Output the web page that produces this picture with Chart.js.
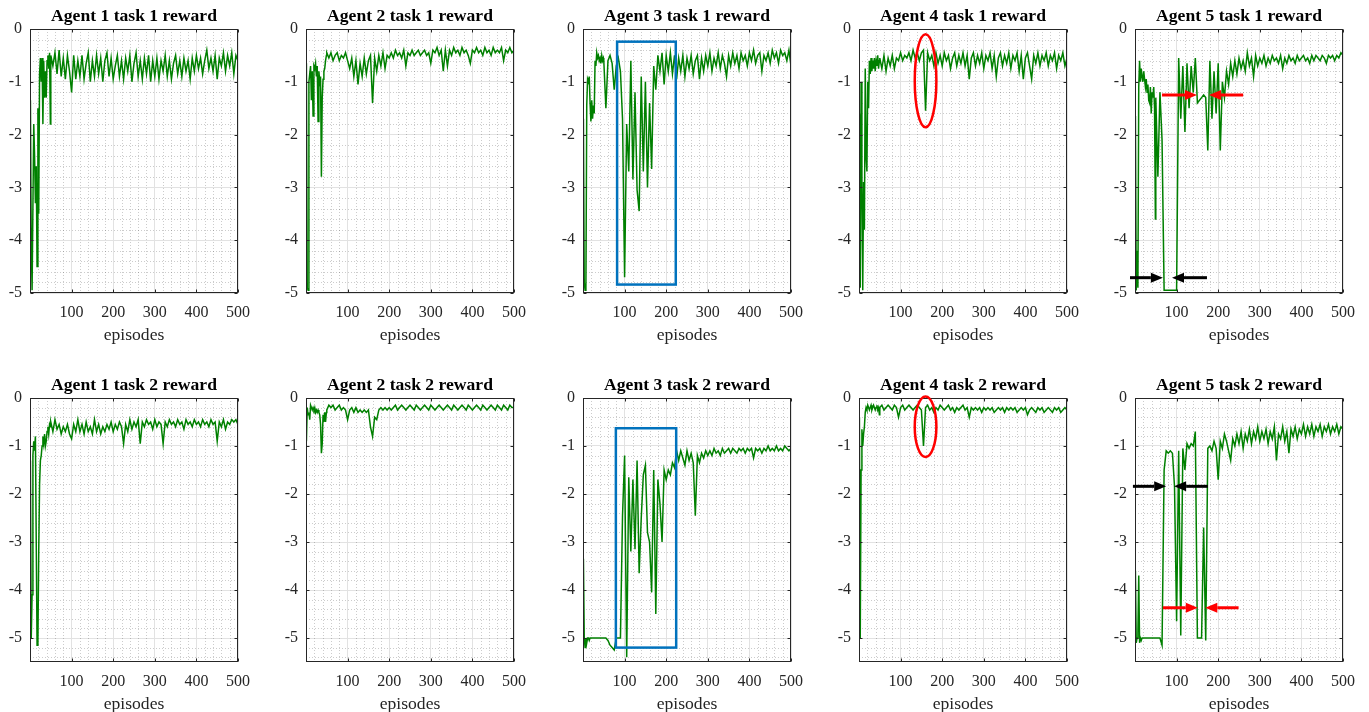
<!DOCTYPE html>
<html>
<head>
<meta charset="utf-8">
<script src="https://cdn.jsdelivr.net/npm/chart.js@4/dist/chart.umd.min.js"></script>
<style>
  html, body { margin: 0; padding: 0; background: #fff; overflow: hidden; }
  #wrap { position: relative; width: 1369px; height: 712px; }
  #wrap canvas { position: absolute; }
</style>
</head>
<body>
<div id="wrap"></div>
<script>
// x positions (episodes) shared by every panel: every 2 episodes early on, then every 5
const episodes = [1, 3, 5, 7, 9, 11, 13, 15, 17, 19, 21, 23, 25, 27, 29, 31, 33, 35, 37, 39, 41, 43, 45, 47, 49,
  50, 55, 60, 65, 70, 75, 80, 85, 90, 95,
  100, 105, 110, 115, 120, 125, 130, 135, 140, 145,
  150, 155, 160, 165, 170, 175, 180, 185, 190, 195,
  200, 205, 210, 215, 220, 225, 230, 235, 240, 245,
  250, 255, 260, 265, 270, 275, 280, 285, 290, 295,
  300, 305, 310, 315, 320, 325, 330, 335, 340, 345,
  350, 355, 360, 365, 370, 375, 380, 385, 390, 395,
  400, 405, 410, 415, 420, 425, 430, 435, 440, 445,
  450, 455, 460, 465, 470, 475, 480, 485, 490, 495,
  500];

const a1t1 = [-1.35, -4.0, -4.95, -4.95, -1.8, -2.4, -3.3, -2.6, -4.5, -1.5, -3.5, -0.85, -0.55, -1.0, -0.55, -1.8, -0.6, -1.3, -0.8, -1.3, -0.6, -0.5, -0.75, -0.45, -1.8,
  -0.5, -0.7, -0.45, -0.85, -0.4, -0.9, -0.55, -0.95, -0.5, -0.8,
  -1.2, -0.5, -0.95, -0.6, -0.9, -0.5, -0.95, -0.65, -0.45, -1.0,
  -0.6, -0.9, -0.5, -0.85, -0.55, -1.0, -0.6, -0.45, -0.9, -0.55,
  -0.95, -0.7, -0.5, -0.9, -0.6, -0.95, -0.55, -0.8, -0.5, -1.0,
  -0.65, -0.45, -0.9, -0.6, -0.95, -0.55, -0.85, -0.5, -1.0, -0.6,
  -0.9, -0.55, -0.95, -0.6, -0.8, -0.5, -0.9, -0.6, -0.95, -0.65,
  -0.5, -0.85, -0.6, -0.9, -0.55, -0.8, -0.6, -0.95, -0.55, -0.8,
  -0.5, -0.75, -0.55, -0.85, -0.6, -0.4, -0.75, -0.55, -0.8, -0.5,
  -0.95, -0.55, -0.7, -0.45, -0.8, -0.5, -0.7, -0.45, -0.85, -0.5,
  -0.6];

const a2t1 = [-0.65, -4.9, -4.95, -1.0, -0.85, -0.7, -1.35, -0.8, -1.65, -0.7, -0.75, -0.65, -0.9, -0.7, -1.75, -0.8, -1.0, -0.9, -2.8, -1.3, -0.95, -0.8, -0.75, -0.6, -0.5,
  -0.45, -0.55, -0.45, -0.6, -0.5, -0.45, -0.6, -0.5, -0.55, -0.45,
  -0.6, -0.75, -0.55, -0.9, -0.6, -1.05, -0.65, -0.9, -0.55, -0.85,
  -0.6, -0.5, -1.4, -0.55, -0.8, -0.5, -0.7, -0.45, -0.75, -0.5,
  -0.55, -0.45, -0.55, -0.4, -0.5, -0.45, -0.55, -0.4, -0.7, -0.45,
  -0.5, -0.4, -0.5, -0.45, -0.4, -0.5, -0.45, -0.4, -0.5, -0.45,
  -0.65, -0.4, -0.45, -0.35, -0.5, -0.4, -0.8, -0.4, -0.7, -0.4,
  -0.5, -0.35, -0.45, -0.4, -0.5, -0.35, -0.45, -0.4, -0.5, -0.65,
  -0.4, -0.45, -0.35, -0.45, -0.4, -0.5, -0.35, -0.45, -0.4, -0.5,
  -0.35, -0.45, -0.4, -0.45, -0.35, -0.6, -0.4, -0.45, -0.35, -0.45,
  -0.4];

const a3t1 = [-1.7, -4.8, -4.95, -4.9, -1.45, -0.95, -1.0, -0.9, -1.4, -1.75, -1.35, -1.7, -1.45, -1.6, -0.6, -0.7, -0.45, -0.55, -0.5, -0.6, -0.55, -0.65, -0.5, -0.6, -0.55,
  -0.6, -1.5, -0.6, -0.5, -0.65, -1.15, -0.7, -0.55, -0.8, -1.7,
  -4.7, -1.8, -2.7, -0.6, -2.85, -1.2, -3.05, -3.45, -0.9, -2.7,
  -1.0, -3.0, -1.4, -2.65, -0.7, -1.15, -0.5, -0.8, -0.45, -1.05,
  -0.5, -0.8, -0.45, -0.85, -0.5, -0.95, -0.55, -0.8, -0.5, -0.9,
  -0.55, -0.75, -0.5, -0.85, -0.6, -0.5, -0.95, -0.55, -0.8, -0.5,
  -0.7, -0.45, -0.8, -0.55, -0.7, -0.45, -0.75, -0.5, -0.65, -0.9,
  -0.5, -0.7, -0.45, -0.65, -0.5, -0.75, -0.45, -0.6, -0.5, -0.7,
  -0.45, -0.6, -0.4, -0.65, -0.5, -0.45, -0.8, -0.5, -0.6, -0.45,
  -0.65, -0.4, -0.55, -0.45, -0.65, -0.4, -0.5, -0.45, -0.6, -0.4,
  -0.7];

const a4t1 = [-1.6, -4.9, -1.0, -3.0, -4.95, -2.9, -3.8, -0.75, -2.4, -2.7, -1.0, -1.5, -0.6, -0.85, -0.55, -0.8, -0.6, -0.75, -0.55, -0.8, -0.6, -0.7, -0.5, -0.75, -0.6,
  -0.55, -0.75, -0.5, -0.8, -0.55, -0.7, -0.5, -0.75, -0.55, -0.6,
  -0.45, -0.6, -0.5, -0.55, -0.45, -0.6, -0.4, -0.55, -0.45, -0.6,
  -0.45, -0.4, -1.55, -0.45, -0.6, -0.5, -0.7, -0.45, -0.65, -0.5,
  -0.7, -0.45, -0.6, -0.5, -0.75, -0.55, -0.45, -0.7, -0.5, -0.65,
  -0.45, -0.7, -0.5, -0.95, -0.55, -0.45, -0.7, -0.5, -0.65, -0.45,
  -0.75, -0.5, -0.6, -0.45, -0.75, -0.5, -0.9, -0.55, -0.45, -0.7,
  -0.5, -0.65, -0.45, -0.75, -0.5, -0.6, -0.45, -0.8, -0.5, -0.95,
  -0.55, -0.45, -0.7, -0.95, -0.5, -0.65, -0.45, -0.7, -0.5, -0.6,
  -0.45, -0.7, -0.5, -0.6, -0.45, -0.75, -0.5, -0.6, -0.45, -0.7,
  -0.55];

const a5t1 = [-1.65, -4.95, -4.2, -4.9, -1.1, -0.6, -1.0, -0.75, -0.9, -1.0, -0.8, -0.95, -1.1, -0.95, -1.2, -1.05, -1.35, -1.4, -1.1, -1.6, -1.2, -1.3, -1.1, -1.5, -3.6,
  -1.3, -2.8, -1.2, -2.1, -4.95, -4.95, -4.95, -4.95, -4.95, -4.95,
  -4.95, -0.55, -1.7, -0.7, -1.95, -0.65, -1.5, -0.7, -1.2, -0.55,
  -1.4, -1.35, -1.3, -1.25, -1.3, -2.3, -0.6, -1.7, -0.8, -1.6,
  -0.65, -2.3, -1.0, -1.3, -0.8, -1.05, -0.65, -0.9, -0.6, -0.85,
  -0.55, -0.75, -0.6, -0.8, -0.45, -0.7, -0.55, -0.9, -0.5, -0.7,
  -0.55, -0.65, -0.5, -0.7, -0.55, -0.65, -0.5, -0.6, -0.55, -0.65,
  -0.5, -0.75, -0.55, -0.65, -0.5, -0.6, -0.55, -0.65, -0.5, -0.6,
  -0.55, -0.5, -0.6, -0.55, -0.65, -0.5, -0.6, -0.5, -0.55, -0.6,
  -0.5, -0.55, -0.65, -0.5, -0.55, -0.5, -0.6, -0.5, -0.55, -0.45,
  -0.5];

const a1t2 = [-1.3, -5.0, -4.1, -1.2, -0.9, -1.1, -0.8, -3.0, -5.15, -5.1, -3.2, -1.8, -1.3, -1.2, -1.0, -0.8, -0.95, -0.75, -1.0, -0.9, -0.7, -0.6, -0.75, -0.55, -0.6,
  -0.5, -0.7, -0.45, -0.65, -0.55, -0.75, -0.6, -0.7, -0.55, -0.75,
  -0.85, -0.55, -0.7, -0.45, -0.7, -0.55, -0.75, -0.5, -0.7, -0.6,
  -0.75, -0.45, -0.7, -0.55, -0.75, -0.6, -0.7, -0.55, -0.65, -0.5,
  -0.7, -0.55, -0.65, -0.5, -0.6, -0.95, -0.55, -0.7, -0.45, -0.65,
  -0.5, -0.6, -0.45, -0.95, -0.5, -0.6, -0.45, -0.55, -0.5, -0.65,
  -0.45, -0.6, -0.5, -0.55, -0.95, -0.5, -0.6, -0.45, -0.55, -0.5,
  -0.6, -0.45, -0.55, -0.5, -0.65, -0.45, -0.55, -0.5, -0.6, -0.45,
  -0.55, -0.5, -0.6, -0.45, -0.55, -0.5, -0.6, -0.45, -0.55, -0.5,
  -0.9, -0.5, -0.6, -0.45, -0.65, -0.5, -0.55, -0.45, -0.5, -0.45,
  -0.55];

const a2t2 = [-0.9, -0.2, -0.35, -0.3, -0.45, -0.15, -0.2, -0.25, -0.2, -0.25, -0.2, -0.3, -0.25, -0.3, -0.25, -0.3, -0.35, -0.55, -1.15, -0.95, -0.35, -0.5, -0.3, -0.5, -0.3,
  -0.25, -0.15, -0.2, -0.15, -0.25, -0.2, -0.15, -0.25, -0.2, -0.25,
  -0.45, -0.25, -0.2, -0.3, -0.2, -0.3, -0.25, -0.3, -0.25, -0.3,
  -0.25, -0.6, -0.8, -0.4, -0.45, -0.25, -0.2, -0.25, -0.2, -0.25,
  -0.2, -0.25, -0.2, -0.15, -0.25, -0.2, -0.15, -0.2, -0.25, -0.2,
  -0.15, -0.2, -0.25, -0.15, -0.2, -0.25, -0.2, -0.15, -0.2, -0.25,
  -0.15, -0.2, -0.25, -0.2, -0.15, -0.2, -0.25, -0.2, -0.15, -0.2,
  -0.25, -0.15, -0.2, -0.25, -0.2, -0.15, -0.2, -0.25, -0.15, -0.2,
  -0.25, -0.2, -0.15, -0.2, -0.25, -0.15, -0.2, -0.25, -0.2, -0.15,
  -0.2, -0.25, -0.15, -0.2, -0.25, -0.15, -0.2, -0.25, -0.15, -0.2,
  -0.2];

const a3t2 = [-3.35, -5.0, -5.2, -5.0, -5.1, -5.0, -5.0, -5.05, -5.0, -5.0, -5.0, -5.0, -5.0, -5.0, -5.0, -5.0, -5.0, -5.0, -5.0, -5.0, -5.0, -5.0, -5.0, -5.0, -5.0,
  -5.0, -5.0, -5.05, -5.15, -5.2, -5.25, -5.0, -5.0, -5.0, -2.45,
  -1.2, -5.4, -1.65, -3.2, -1.7, -3.15, -1.3, -3.65, -2.5, -1.6,
  -1.4, -2.8, -3.0, -4.05, -1.5, -4.5, -1.7, -2.2, -3.0, -1.5,
  -1.7, -1.5, -1.6, -1.35, -1.45, -1.1, -1.3, -1.1, -1.25, -1.4,
  -1.1, -1.3, -1.15, -1.35, -2.45, -1.2, -1.35, -1.15, -1.25, -1.1,
  -1.2, -1.1, -1.2, -1.05, -1.15, -1.1, -1.2, -1.05, -1.15, -1.1,
  -1.05, -1.15, -1.05, -1.1, -1.15, -1.05, -1.1, -1.05, -1.15, -1.05,
  -1.1, -1.05, -1.25, -1.05, -1.1, -1.05, -1.15, -1.05, -1.1, -1.0,
  -1.1, -1.05, -1.1, -1.0, -1.1, -1.05, -1.1, -1.0, -1.05, -1.1,
  -1.05];

const a4t2 = [-0.4, -5.0, -1.5, -0.65, -1.0, -0.75, -0.6, -0.3, -0.2, -0.25, -0.15, -0.2, -0.25, -0.2, -0.15, -0.25, -0.2, -0.15, -0.2, -0.25, -0.2, -0.15, -0.25, -0.2, -0.35,
  -0.2, -0.15, -0.25, -0.2, -0.15, -0.2, -0.25, -0.15, -0.2, -0.4,
  -0.2, -0.15, -0.25, -0.2, -0.15, -0.2, -0.25, -0.2, -0.15, -0.2,
  -0.25, -1.0, -0.2, -0.15, -0.25, -0.2, -0.3, -0.2, -0.25, -0.15,
  -0.2, -0.25, -0.2, -0.15, -0.25, -0.2, -0.3, -0.2, -0.25, -0.2,
  -0.15, -0.25, -0.2, -0.4, -0.2, -0.25, -0.2, -0.25, -0.2, -0.3,
  -0.2, -0.25, -0.2, -0.25, -0.2, -0.3, -0.25, -0.2, -0.25, -0.2,
  -0.3, -0.2, -0.25, -0.2, -0.25, -0.2, -0.3, -0.25, -0.2, -0.25,
  -0.2, -0.35, -0.25, -0.2, -0.25, -0.3, -0.2, -0.25, -0.2, -0.3,
  -0.25, -0.2, -0.25, -0.3, -0.2, -0.25, -0.2, -0.3, -0.25, -0.2,
  -0.25];

const a5t2 = [-3.6, -5.1, -5.0, -4.9, -3.7, -5.1, -5.0, -5.05, -5.0, -5.0, -5.0, -5.0, -5.0, -5.0, -5.0, -5.0, -5.0, -5.0, -5.0, -5.0, -5.0, -5.0, -5.0, -5.0, -5.0,
  -5.0, -5.0, -5.0, -5.15, -1.5, -1.1, -1.15, -1.1, -1.15, -1.85,
  -4.65, -1.1, -4.95, -1.05, -1.5, -0.95, -1.05, -0.95, -1.0, -0.7,
  -5.0, -5.0, -5.0, -2.7, -5.05, -1.05, -1.0, -1.1, -0.9, -1.05,
  -1.7, -0.9, -1.05, -0.75, -0.9, -1.1, -1.3, -0.85, -1.0, -0.75,
  -0.95, -0.7, -1.05, -0.75, -0.9, -0.65, -0.95, -0.7, -0.85, -0.6,
  -0.9, -0.7, -0.85, -0.65, -0.95, -0.7, -0.85, -0.6, -1.3, -0.75,
  -0.85, -0.6, -0.9, -0.7, -1.15, -0.65, -0.8, -0.6, -0.85, -0.65,
  -0.75, -0.55, -0.8, -0.6, -0.75, -0.55, -0.8, -0.6, -0.7, -0.55,
  -0.8, -0.6, -0.7, -0.55, -0.75, -0.6, -0.7, -0.55, -0.75, -0.6,
  -0.65];

// highlight marks drawn on top, in data units (episode, reward)
const blueBoxes = {
  a3t1: [82, 223, -0.24, -4.84],
  a3t2: [79, 224, -0.63, -5.2]
};
const redEllipses = {
  a4t1: [160, -0.98, 26, 0.88],
  a4t2: [160, -0.6, 26, 0.63]
};
const arrowMarks = {
  a5t1: [
    ['#ff0000', 65, 149, -1.25], ['#ff0000', 260, 178, -1.25],
    ['#000000', -12, 67, -4.71], ['#000000', 173, 89, -4.71]
  ],
  a5t2: [
    ['#000000', -5, 75, -1.84], ['#000000', 175, 94, -1.84],
    ['#ff0000', 67, 151, -4.37], ['#ff0000', 249, 169, -4.37]
  ]
};

const panels = [
  { key: 'a1t1', title: 'Agent 1 task 1 reward', data: a1t1, row: 0, col: 0 },
  { key: 'a2t1', title: 'Agent 2 task 1 reward', data: a2t1, row: 0, col: 1 },
  { key: 'a3t1', title: 'Agent 3 task 1 reward', data: a3t1, row: 0, col: 2 },
  { key: 'a4t1', title: 'Agent 4 task 1 reward', data: a4t1, row: 0, col: 3 },
  { key: 'a5t1', title: 'Agent 5 task 1 reward', data: a5t1, row: 0, col: 4 },
  { key: 'a1t2', title: 'Agent 1 task 2 reward', data: a1t2, row: 1, col: 0 },
  { key: 'a2t2', title: 'Agent 2 task 2 reward', data: a2t2, row: 1, col: 1 },
  { key: 'a3t2', title: 'Agent 3 task 2 reward', data: a3t2, row: 1, col: 2 },
  { key: 'a4t2', title: 'Agent 4 task 2 reward', data: a4t2, row: 1, col: 3 },
  { key: 'a5t2', title: 'Agent 5 task 2 reward', data: a5t2, row: 1, col: 4 }
];
const yBottom = [-5, -5.5];

const serif = "'Liberation Serif', 'Times New Roman', serif";
const axisInk = '#262626';

// minor dotted grid, axes box with inward ticks, panel title and the highlight marks
const frame = {
  id: 'frame',
  beforeDatasetsDraw(chart) {
    const { ctx, chartArea: a, scales: { x, y } } = chart;
    ctx.save();
    ctx.strokeStyle = 'rgba(0,0,0,0.2)';
    ctx.lineWidth = 1;
    ctx.setLineDash([1, 2]);
    for (let v = 20; v < 500; v += 20) {
      if (v % 100 === 0) continue;
      const px = Math.round(x.getPixelForValue(v)) + 0.5;
      ctx.beginPath(); ctx.moveTo(px, a.top); ctx.lineTo(px, a.bottom); ctx.stroke();
    }
    for (let k = -1; k * 0.2 > y.min + 1e-6; k--) {
      if (k % 5 === 0) continue;
      const py = Math.round(y.getPixelForValue(k * 0.2)) + 0.5;
      ctx.beginPath(); ctx.moveTo(a.left, py); ctx.lineTo(a.right, py); ctx.stroke();
    }
    ctx.restore();
  },
  afterDatasetsDraw(chart, args, opts) {
    const { ctx, chartArea: a, scales: { x, y } } = chart;
    ctx.save();
    // box and tick marks
    ctx.strokeStyle = axisInk;
    ctx.lineWidth = 1;
    const L = Math.round(a.left) + 0.5, R = Math.round(a.right) - 0.5;
    const T = Math.round(a.top) + 0.5, B = Math.round(a.bottom) - 0.5;
    ctx.strokeRect(L, T, R - L, B - T);
    ctx.beginPath();
    x.ticks.forEach(t => {
      const px = Math.round(x.getPixelForValue(t.value)) + 0.5;
      ctx.moveTo(px, B); ctx.lineTo(px, B - 3);
      ctx.moveTo(px, T); ctx.lineTo(px, T + 3);
    });
    y.ticks.forEach(t => {
      const py = Math.round(y.getPixelForValue(t.value)) + 0.5;
      ctx.moveTo(L, py); ctx.lineTo(L + 3, py);
      ctx.moveTo(R, py); ctx.lineTo(R - 3, py);
    });
    ctx.stroke();

    // title centred over the plot box, like the reference
    ctx.fillStyle = '#000';
    ctx.font = 'bold 17.6px ' + serif;
    ctx.textAlign = 'center';
    ctx.textBaseline = 'middle';
    ctx.fillText(opts.title, (a.left + a.right) / 2, 16);

    const key = opts.key;
    if (blueBoxes[key]) {
      const [x0, x1, y0, y1] = blueBoxes[key];
      ctx.strokeStyle = '#0072bd';
      ctx.lineWidth = 2.5;
      const px0 = x.getPixelForValue(x0), px1 = x.getPixelForValue(x1);
      const py0 = y.getPixelForValue(y0), py1 = y.getPixelForValue(y1);
      ctx.strokeRect(px0, py0, px1 - px0, py1 - py0);
    }
    if (redEllipses[key]) {
      const [cx, cy, rx, ry] = redEllipses[key];
      const pcx = x.getPixelForValue(cx), pcy = y.getPixelForValue(cy);
      const prx = Math.abs(x.getPixelForValue(cx + rx) - pcx);
      const pry = Math.abs(y.getPixelForValue(cy + ry) - pcy);
      ctx.strokeStyle = '#ff0000';
      ctx.lineWidth = 2.5;
      ctx.beginPath();
      ctx.ellipse(pcx, pcy, prx, pry, 0, 0, Math.PI * 2);
      ctx.stroke();
    }
    (arrowMarks[key] || []).forEach(([color, fromX, toX, atY]) => {
      const p0 = x.getPixelForValue(fromX), p1 = x.getPixelForValue(toX);
      const py = y.getPixelForValue(atY);
      const dir = Math.sign(p1 - p0);
      const head = 12;
      ctx.strokeStyle = color;
      ctx.fillStyle = color;
      ctx.lineWidth = 3;
      ctx.beginPath();
      ctx.moveTo(p0, py); ctx.lineTo(p1 - dir * head, py);
      ctx.stroke();
      ctx.beginPath();
      ctx.moveTo(p1, py);
      ctx.lineTo(p1 - dir * head, py - 5);
      ctx.lineTo(p1 - dir * head, py + 5);
      ctx.closePath();
      ctx.fill();
    });
    ctx.restore();
  }
};

const wrap = document.getElementById('wrap');

panels.forEach(p => {
  const canvas = document.createElement('canvas');
  canvas.width = 266;
  canvas.height = 350;
  canvas.style.left = (p.col * 276.25) + 'px';
  canvas.style.top = (p.row * 369) + 'px';
  wrap.appendChild(canvas);

  const points = episodes.map((e, i) => ({ x: e, y: p.data[i] }));

  new Chart(canvas, {
    type: 'line',
    data: {
      datasets: [{
        data: points,
        borderColor: '#008000',
        borderWidth: 1.5,
        pointRadius: 0,
        tension: 0,
        fill: false
      }]
    },
    options: {
      responsive: false,
      animation: false,
      devicePixelRatio: 1,
      layout: { padding: { left: 0, right: 28, top: 29, bottom: 0 } },
      plugins: {
        legend: { display: false },
        tooltip: { enabled: false },
        title: { display: false },
        frame: { key: p.key, title: p.title }
      },
      scales: {
        x: {
          type: 'linear',
          min: 0,
          max: 500,
          afterBuildTicks: s => { s.ticks = s.ticks.filter(t => t.value > 0); },
          afterFit: s => { s.height = 57; },
          ticks: {
            stepSize: 100,
            color: axisInk,
            font: { family: serif, size: 16 },
            padding: 10,
            maxRotation: 0,
            autoSkip: false
          },
          grid: { color: '#e2e2e2', lineWidth: 1, drawTicks: false },
          border: { display: false },
          title: {
            display: true,
            text: 'episodes',
            color: axisInk,
            font: { family: serif, size: 17.6 },
            padding: { top: 0, bottom: 4 }
          }
        },
        y: {
          min: yBottom[p.row],
          max: 0,
          afterBuildTicks: s => { s.ticks = s.ticks.filter(t => Number.isInteger(t.value)); },
          afterFit: s => { s.width = 30; },
          ticks: {
            stepSize: 1,
            color: axisInk,
            font: { family: serif, size: 16 },
            padding: 8,
            callback: v => String(v)
          },
          grid: { color: '#e2e2e2', lineWidth: 1, drawTicks: false },
          border: { display: false }
        }
      }
    },
    plugins: [frame]
  });
});
</script>
</body>
</html>
